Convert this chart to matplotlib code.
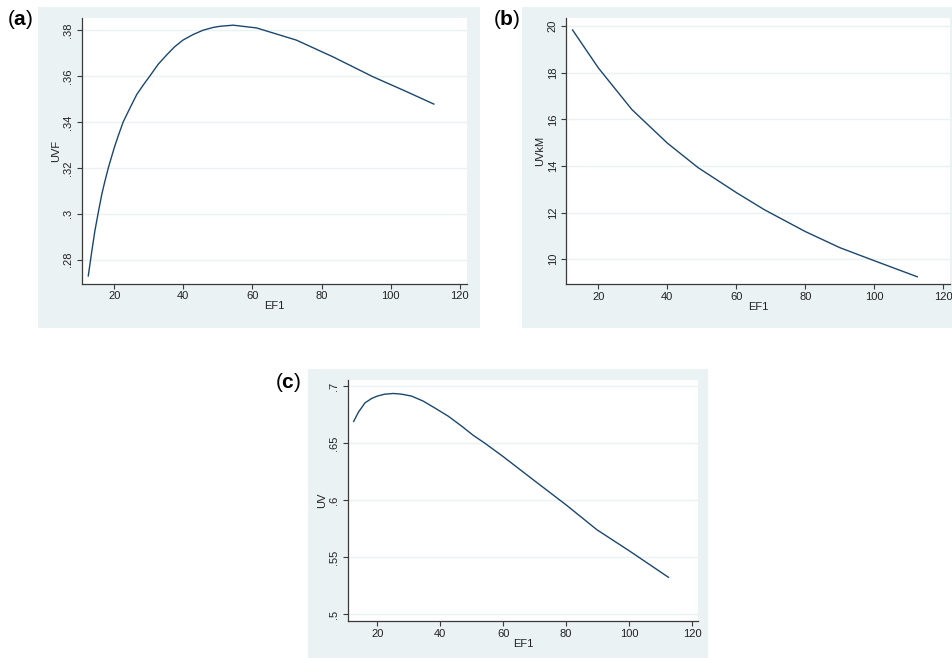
import matplotlib
matplotlib.use("Agg")
import matplotlib.pyplot as plt
from matplotlib.patches import Rectangle

# values
ef1_a = [12.5, 13.45, 14.4, 15.4, 16.4, 17.3, 18.3, 20, 21.2, 22.6, 24.5, 26.5, 28.4, 30.3, 32.7, 35.1,
         37.5, 39.9, 42.8, 45.7, 48.6, 50.5, 54.4, 61.2, 72.7, 83.3, 94.9, 104.5, 112.5]
uvf = [.2729, .2829, .2924, .3006, .3084, .3141, .3200, .3287, .3341, .3400, .3459, .3519, .3561, .3600, .3651, .3691,
       .3728, .3757, .3781, .3800, .3812, .3817, .3822, .3810, .3757, .3684, .3597, .3533, .3478]

ef1_b = [12.5, 20, 29.7, 40, 48.9, 60, 68.2, 80, 90, 100, 112.5]
uvkm = [19.83, 18.2, 16.42, 14.98, 13.93, 12.86, 12.12, 11.19, 10.5, 9.94, 9.25]

ef1_c = [12.5, 14.0, 16.1, 18.2, 20, 22.4, 25.1, 27.7, 30.9, 34.6, 38.4, 42.6, 46.9, 50.5, 54, 60, 69.6, 80, 89.8, 100, 112.5]
uv = [.669, .6771, .6853, .6891, .6912, .6929, .6935, .6929, .6912, .6868, .6806, .6735, .6647, .6568, .6503, .6382,
      .6178, .5959, .5741, .5558, .5325]

x_ticks = [20, 40, 60, 80, 100, 120]
a_ticks = [.28, .30, .32, .34, .36, .38]
a_labels = [".28", ".3", ".32", ".34", ".36", ".38"]
b_ticks = [10, 12, 14, 16, 18, 20]
b_labels = ["10", "12", "14", "16", "18", "20"]
c_ticks = [.50, .55, .60, .65, .70]
c_labels = [".5", ".55", ".6", ".65", ".7"]

W, H = 952, 658
BG = "#EAF2F3"
NAVY = "#1A476F"
AXC = "#3a3a3a"

plt.rcParams["font.family"] = ["Liberation Sans", "DejaVu Sans"]
plt.rcParams["mathtext.fontset"] = "custom"
plt.rcParams["mathtext.rm"] = "Liberation Sans"
plt.rcParams["mathtext.bf"] = "Liberation Sans:bold"

fig = plt.figure(figsize=(W / 100, H / 100), dpi=100)
fig.patch.set_facecolor("white")


def box(l, t, r, b):
    # pixel box (top-left origin) -> figure fraction
    return [l / W, 1 - b / H, (r - l) / W, (b - t) / H]


def panel(bg, ax_box, x, y, yt, ylab, ylim, ytitle, tag, tag_xy):
    l, b, w, h = box(*bg)
    fig.add_artist(Rectangle((l, b), w, h, transform=fig.transFigure,
                             facecolor=BG, edgecolor="none", zorder=0))
    ax = fig.add_axes(box(*ax_box))
    ax.set_facecolor("white")
    ax.plot(x, y, color=NAVY, lw=1.0, solid_joinstyle="round")
    ax.set_xlim(10.6, 122)
    ax.set_ylim(*ylim)
    ax.set_xticks(x_ticks)
    ax.set_xticklabels([str(t) for t in x_ticks])
    ax.set_yticks(yt)
    ax.set_yticklabels(ylab, rotation=90, va="center")
    ax.yaxis.grid(True, color=BG, lw=1.0)
    ax.set_axisbelow(True)
    for s in ["top", "right"]:
        ax.spines[s].set_visible(False)
    for s in ["left", "bottom"]:
        ax.spines[s].set_color(AXC)
        ax.spines[s].set_linewidth(0.9)
    ax.tick_params(direction="out", length=3.5, width=0.8, color=AXC,
                   labelsize=8, labelcolor="#222222")
    ax.tick_params(axis="x", pad=2)
    ax.tick_params(axis="y", pad=2.5)
    ax.set_xlabel("EF1", fontsize=8, labelpad=0, color="#222222")
    ax.set_ylabel(ytitle, fontsize=8, labelpad=1.5, color="#222222")
    fig.text(tag_xy[0] / W, 1 - tag_xy[1] / H, "($\\mathbf{" + tag + "}$)",
             fontsize=15, ha="left", va="top")
    return ax


panel((37.7, 6.7, 480, 327.7), (81.7, 18.3, 466.7, 283.5), ef1_a, uvf,
      a_ticks, a_labels, (0.2696, 0.3852), "UVF", "a", (7, 8))
panel((521.7, 6.7, 960, 328), (566, 18.3, 950, 284), ef1_b, uvkm,
      b_ticks, b_labels, (8.94, 20.33), "UVkM", "b", (493, 8))
panel((307.7, 369.3, 708.3, 660), (347.7, 380, 698.3, 621), ef1_c, uv,
      c_ticks, c_labels, (0.4942, 0.7053), "UV", "c", (275, 371))

fig.savefig("out.png", dpi=100)
